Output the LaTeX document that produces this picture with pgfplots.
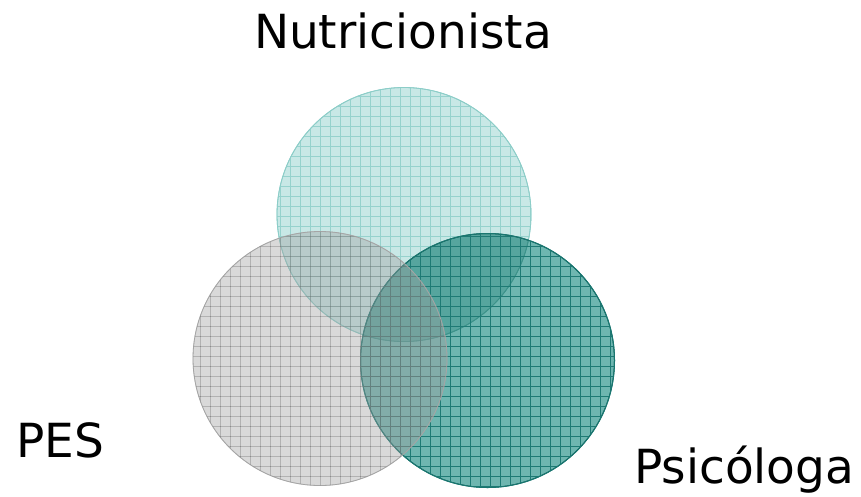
\documentclass[border=0pt]{standalone}
\usepackage{pgfplots}
\pgfplotsset{compat=1.18}
\usepackage{fontspec}
\setmainfont{DejaVu Sans}
\usetikzlibrary{patterns}
\pgfdeclarepatternformonly{biggrid}{\pgfqpoint{-1pt}{-1pt}}{\pgfqpoint{11pt}{11pt}}{\pgfqpoint{10pt}{10pt}}{%
  \pgfsetlinewidth{0.9pt}%
  \pgfpathmoveto{\pgfqpoint{0pt}{-0.5pt}}\pgfpathlineto{\pgfqpoint{0pt}{10.5pt}}%
  \pgfpathmoveto{\pgfqpoint{-0.5pt}{0pt}}\pgfpathlineto{\pgfqpoint{10.5pt}{0pt}}%
  \pgfusepath{stroke}}
\definecolor{nutfill}{RGB}{200,232,230}
\definecolor{nutline}{RGB}{150,210,205}
\definecolor{nutedge}{RGB}{140,205,200}
\definecolor{psifill}{RGB}{110,182,176}
\definecolor{psiline}{RGB}{30,122,116}
\definecolor{psiedge}{RGB}{25,118,112}
\definecolor{pesfill}{RGB}{160,160,160}
\definecolor{pesline}{RGB}{120,120,120}
\definecolor{pesedge}{RGB}{165,165,165}
\begin{document}
\begin{tikzpicture}
\begin{axis}[
  scale only axis, width=861pt, height=496pt,
  xmin=0, xmax=861, ymin=0, ymax=496, y dir=reverse,
  hide axis, clip=false,
]
\addplot[draw=none] coordinates {(0,0) (861,496)};
% Nutricionista
\addplot[only marks, mark=*, mark size=127pt, color=nutedge,
  mark options={draw=nutedge, line width=0.8pt, fill=nutfill}]
  coordinates {(404,214.5)};
\addplot[only marks, mark=*, mark size=127pt, color=nutedge,
  mark options={draw=nutedge, line width=0.8pt, pattern=biggrid, pattern color=nutline}]
  coordinates {(404,214.5)};
% Psicologa
\addplot[only marks, mark=*, mark size=127pt, color=psiedge,
  mark options={draw=psiedge, line width=1pt, fill=psifill, blend mode=multiply}]
  coordinates {(487.5,360.5)};
\addplot[only marks, mark=*, mark size=127pt, color=psiedge,
  mark options={draw=psiedge, line width=1pt, pattern=biggrid, pattern color=psiline}]
  coordinates {(487.5,360.5)};
% PES
\addplot[only marks, mark=*, mark size=127pt, color=pesedge,
  mark options={draw=pesedge, line width=0.8pt, fill=pesfill, fill opacity=0.4}]
  coordinates {(320,358.5)};
\addplot[only marks, mark=*, mark size=127pt, color=pesedge,
  mark options={draw=pesedge, line width=0.8pt, pattern=biggrid, pattern color=pesline, opacity=0.4}]
  coordinates {(320,358.5)};
\node[anchor=base, inner sep=0pt, font=\fontsize{47}{56}\selectfont] at (axis cs:403,48) {Nutricionista};
\node[anchor=base west, inner sep=0pt, font=\fontsize{47}{56}\selectfont] at (axis cs:16,457) {PES};
\node[anchor=base west, inner sep=0pt, font=\fontsize{47}{56}\selectfont] at (axis cs:634,483) {Psicóloga};
\end{axis}
\end{tikzpicture}
\end{document}
